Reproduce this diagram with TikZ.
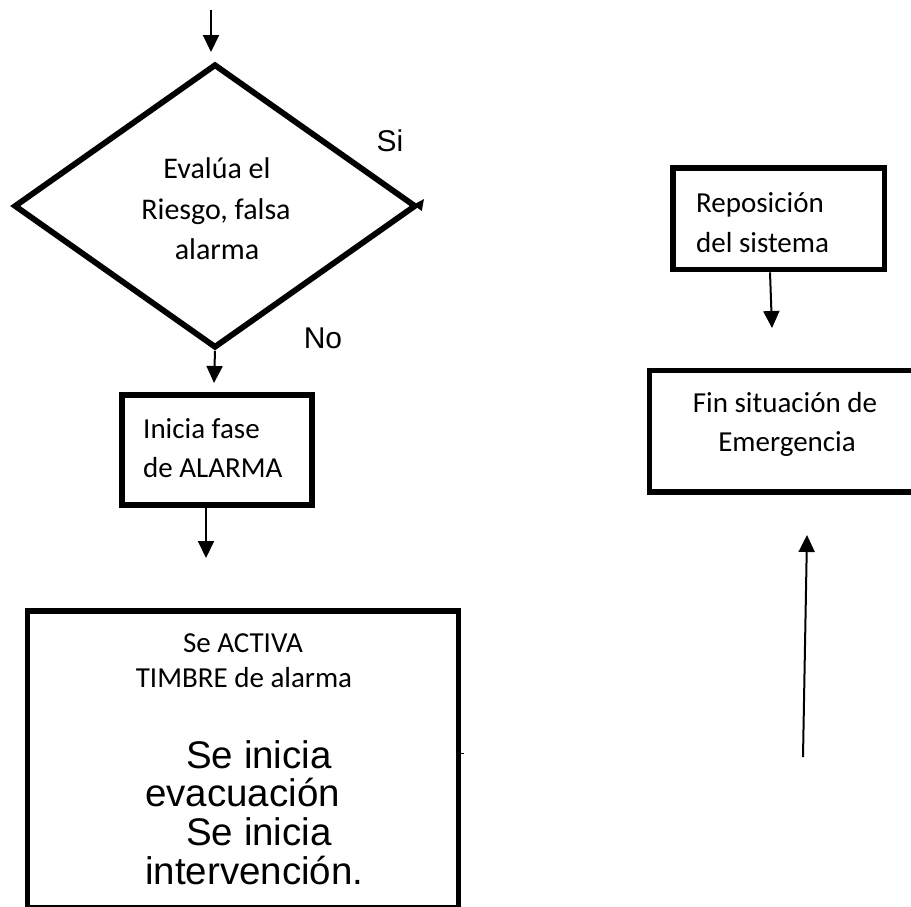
\documentclass[tikz,border=0pt]{standalone}
\usepackage{fontspec}
\setmainfont{Carlito}
\newfontfamily\arialf{Liberation Sans}
\usetikzlibrary{arrows.meta,shapes.geometric}
\begin{document}
\begin{tikzpicture}[x=1pt,y=-1pt,
  frame/.style={draw, rectangle, line width=5.6pt, inner sep=0pt},
  decision/.style={draw, diamond, line width=5.8pt, inner sep=0pt},
  arr/.style={line width=2pt, -{Triangle[length=17pt,width=16pt]}},
  arrsmall/.style={line width=2pt, -{Triangle[length=11pt,width=10pt]}},
  cal/.style={font=\fontsize{29}{34}\selectfont, inner sep=0pt, anchor=base},
  calbig/.style={font=\fontsize{30}{34}\selectfont, inner sep=0pt, anchor=base},
  ari/.style={font=\arialf\fontsize{38.5}{42}\selectfont, inner sep=0pt},
  ans/.style={font=\arialf\fontsize{30}{32}\selectfont, inner sep=0pt, anchor=base}]
\fill[white] (0,0) rectangle (911,906);
\useasboundingbox (0,0) rectangle (911,906);

% shapes
\node[decision, minimum width=402pt, minimum height=284pt] (dia) at (215,206) {};
\node[frame, minimum width=190pt, minimum height=110pt] (ini) at (217,450) {};
\node[frame, minimum width=431pt, minimum height=297pt] (act) at (243,759.5) {};
\node[frame, minimum width=211.5pt, minimum height=101.5pt] (rep) at (778.75,218.75) {};
\node[frame, minimum width=266.5pt, minimum height=121.5pt] (fin) at (782.75,431.25) {};

% texts
\node[calbig] (d1) at (217,178) {Evalúa el};
\node[calbig] (d2) at (216,219) {Riesgo, falsa};
\node[calbig] (d3) at (217,259) {alarma};
\node[ans] (si) at (390,151) {Si};
\node[ans] (no) at (323,348) {No};
\node[cal, anchor=base west] (i1t) at (143,438) {Inicia fase};
\node[cal, anchor=base west] (i2t) at (143,477) {de ALARMA};
\node[cal] (a1) at (243,652) {Se ACTIVA};
\node[cal] (a2) at (244,687) {TIMBRE de alarma};
\node[ari, anchor=base east] (b1) at (332,768) {Se inicia};
\node[ari, anchor=base west] (b2) at (145,806) {evacuación};
\node[ari, anchor=base east] (b3) at (332,845) {Se inicia};
\node[ari, anchor=base west] (b4) at (145,884) {intervención.};
\node[cal, anchor=base west] (r1t) at (696,212) {Reposición};
\node[cal, anchor=base west] (r2t) at (696,252) {del sistema};
\node[cal] (f1) at (785,412) {Fin situación de};
\node[cal] (f2) at (787,451) {Emergencia};

% connectors
\coordinate (s0) at (211,10);
\coordinate (s1) at (211,52);
\draw[arr] (s0) -- (s1);
\coordinate (sie) at (424,199);
\draw[arrsmall] (dia.east) -- (sie);
\coordinate (n1) at (214,383);
\draw[arr] (dia.south) -- (n1);
\coordinate (ie) at (206,558);
\draw[arr] ([xshift=-11pt]ini.south) -- (ie);
\coordinate (re) at (772,328);
\draw[arr] ([xshift=-8.75pt]rep.south) -- (re);
\coordinate (u0) at (803,757);
\coordinate (u1) at (807,535);
\draw[arr] (u0) -- (u1);
\coordinate (k1) at (464,753);
\draw[line width=1pt] (act.east |- k1) -- (k1);
\end{tikzpicture}
\end{document}
